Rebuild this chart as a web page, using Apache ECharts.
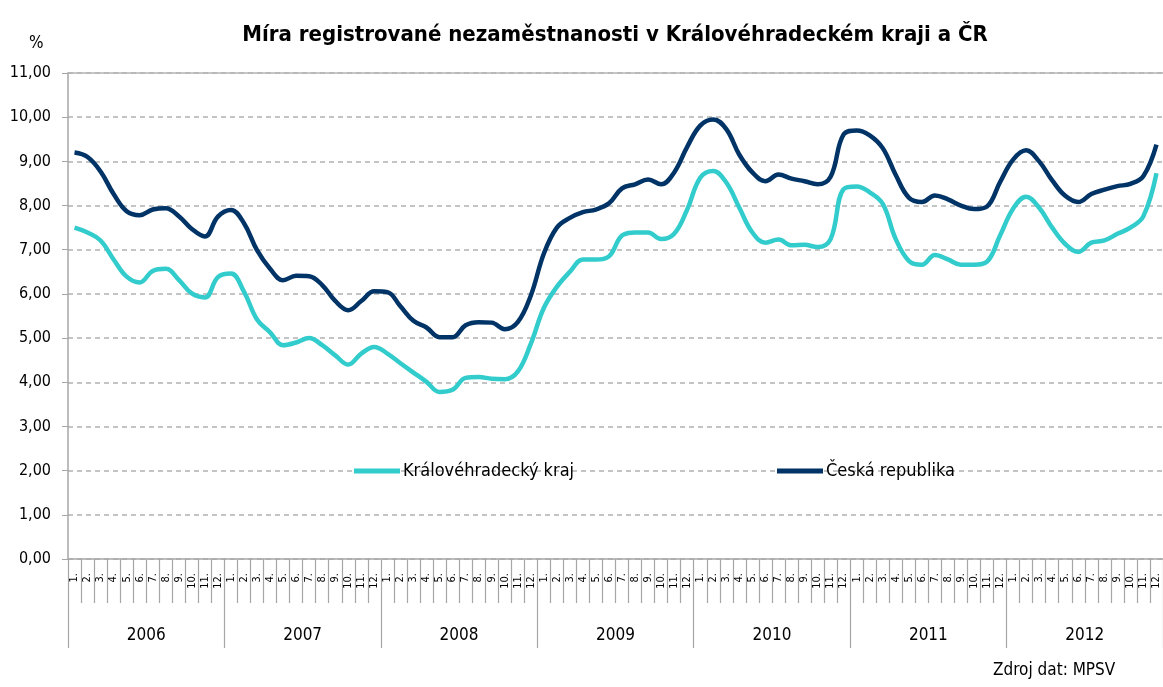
<!DOCTYPE html>
<html>
<head>
<meta charset="utf-8">
<script src="https://cdn.jsdelivr.net/npm/echarts@6/dist/echarts.min.js"></script>
<style>
  html, body { margin: 0; padding: 0; background: #fff; }
  #chart { width: 1163px; height: 687px; }
</style>
</head>
<body>
<div id="chart"></div>
<script>
// tick labels
var years = ['2006', '2007', '2008', '2009', '2010', '2011', '2012'];
var monthLabels = ['1.', '2.', '3.', '4.', '5.', '6.', '7.', '8.', '9.', '10.', '11.', '12.'];

// Královéhradecký kraj, monthly, 2006-2012 (%)
var kraj2006 = [7.50, 7.39, 7.21, 6.78, 6.39, 6.26, 6.52, 6.57, 6.32, 6.01, 5.92, 6.38];
var kraj2007 = [6.46, 6.05, 5.42, 5.13, 4.84, 4.90, 5.00, 4.84, 4.61, 4.40, 4.65, 4.80];
var kraj2008 = [4.65, 4.43, 4.22, 4.01, 3.78, 3.83, 4.10, 4.12, 4.08, 4.07, 4.24, 4.87];
var kraj2009 = [5.68, 6.16, 6.50, 6.78, 6.78, 6.85, 7.32, 7.39, 7.39, 7.24, 7.36, 7.91];
var kraj2010 = [8.63, 8.78, 8.52, 7.95, 7.39, 7.16, 7.23, 7.10, 7.11, 7.06, 7.24, 8.37];
var kraj2011 = [8.43, 8.30, 8.04, 7.24, 6.75, 6.66, 6.88, 6.78, 6.66, 6.66, 6.73, 7.32];
var kraj2012 = [7.93, 8.20, 7.95, 7.50, 7.13, 6.95, 7.16, 7.21, 7.36, 7.50, 7.76, 8.73];

// Česká republika, monthly, 2006-2012 (%)
var cr2006 = [9.20, 9.10, 8.77, 8.26, 7.87, 7.78, 7.91, 7.94, 7.76, 7.47, 7.30, 7.75];
var cr2007 = [7.90, 7.60, 6.99, 6.57, 6.31, 6.41, 6.40, 6.20, 5.84, 5.63, 5.84, 6.06];
var cr2008 = [6.04, 5.72, 5.39, 5.24, 5.02, 5.02, 5.29, 5.36, 5.35, 5.20, 5.36, 5.96];
var cr2009 = [6.91, 7.50, 7.72, 7.85, 7.91, 8.05, 8.39, 8.48, 8.59, 8.48, 8.75, 9.33];
var cr2010 = [9.81, 9.95, 9.73, 9.15, 8.75, 8.55, 8.70, 8.61, 8.55, 8.48, 8.65, 9.61];
var cr2011 = [9.70, 9.59, 9.30, 8.69, 8.18, 8.08, 8.23, 8.14, 8.00, 7.92, 7.98, 8.53];
var cr2012 = [9.04, 9.25, 9.00, 8.57, 8.22, 8.08, 8.26, 8.36, 8.44, 8.49, 8.67, 9.38];

var kraj = [].concat(kraj2006, kraj2007, kraj2008, kraj2009, kraj2010, kraj2011, kraj2012);
var cr = [].concat(cr2006, cr2007, cr2008, cr2009, cr2010, cr2011, cr2012);

// one category per month
var months = [];
years.forEach(function (y) {
    monthLabels.forEach(function (m) { months.push(m); });
});

var FONT = "'Liberation Sans Narrow', 'Arial Narrow', 'DejaVu Sans Condensed', sans-serif";
var AXIS_GRAY = '#a6a6a6';

var chart = echarts.init(document.getElementById('chart'));
chart.setOption({
    animation: false,
    backgroundColor: '#fff',
    textStyle: { fontFamily: FONT },
    title: [
        {
            text: 'Míra registrované nezaměstnanosti v Královéhradeckém kraji a ČR',
            left: 615, top: 24, textAlign: 'center', padding: 0,
            textStyle: { fontFamily: FONT, fontSize: 22, fontWeight: 'bold', color: '#000' }
        },
        {
            text: '%', left: 29, top: 35, padding: 0,
            textStyle: { fontFamily: FONT, fontSize: 17, fontWeight: 'normal', color: '#000' }
        },
        {
            text: 'Zdroj dat: MPSV', left: 993, top: 662, padding: 0,
            textStyle: { fontFamily: FONT, fontSize: 17, fontWeight: 'normal', color: '#000' }
        }
    ],
    legend: [
        {
            left: 354, top: 462, padding: 0,
            itemWidth: 46, itemHeight: 5,
            data: [{ name: 'Královéhradecký kraj', icon: 'rect' }],
            textStyle: { fontFamily: FONT, fontSize: 18, color: '#000', padding: [0, 0, 0, -2] }
        },
        {
            left: 777, top: 462, padding: 0,
            itemWidth: 46, itemHeight: 5,
            data: [{ name: 'Česká republika', icon: 'rect' }],
            textStyle: { fontFamily: FONT, fontSize: 18, color: '#000', padding: [0, 0, 0, -2] }
        }
    ],
    grid: { left: 68, top: 73, width: 1101, height: 486, containLabel: false },
    xAxis: [
        {
            type: 'category', data: months, boundaryGap: true, position: 'bottom',
            axisLine: { lineStyle: { color: AXIS_GRAY, width: 1.5 } },
            axisTick: { show: true, interval: 0, length: 44, lineStyle: { color: AXIS_GRAY, width: 1.2 } },
            axisLabel: { interval: 0, rotate: 90, margin: 14, fontSize: 11, color: '#000', fontFamily: FONT },
            splitLine: { show: false }
        },
        {
            type: 'category', data: years, boundaryGap: true, position: 'bottom', offset: 44,
            axisLine: { show: false },
            axisTick: { show: true, interval: 0, length: 45, lineStyle: { color: AXIS_GRAY, width: 1.2 } },
            axisLabel: { interval: 0, margin: 24, fontSize: 17, color: '#000', fontFamily: FONT },
            splitLine: { show: false }
        },
        {
            type: 'category', data: months, boundaryGap: true, position: 'top',
            axisLine: { lineStyle: { color: '#b4b4b4', width: 1.5 } },
            axisTick: { show: false }, axisLabel: { show: false }, splitLine: { show: false }
        }
    ],
    yAxis: {
        type: 'value', min: 0, max: 11, interval: 1,
        axisLine: { show: true, lineStyle: { color: AXIS_GRAY, width: 1.5 } },
        axisTick: { show: true, length: 6, lineStyle: { color: AXIS_GRAY } },
        axisLabel: {
            margin: 17, fontSize: 16, color: '#000', fontFamily: FONT,
            formatter: function (v) { return v.toFixed(2).replace('.', ','); }
        },
        splitLine: { show: true, lineStyle: { color: '#c4c4c4', width: 2, type: [5, 4] } }
    },
    series: [
        {
            name: 'Královéhradecký kraj', type: 'line', data: kraj,
            xAxisIndex: 0, yAxisIndex: 0,
            smooth: 0.4, showSymbol: false, symbol: 'none',
            color: '#33cccc',
            lineStyle: { color: '#33cccc', width: 4.5 }
        },
        {
            name: 'Česká republika', type: 'line', data: cr,
            xAxisIndex: 0, yAxisIndex: 0,
            smooth: 0.4, showSymbol: false, symbol: 'none',
            color: '#003366',
            lineStyle: { color: '#003366', width: 4.5 }
        }
    ]
});
</script>
</body>
</html>
